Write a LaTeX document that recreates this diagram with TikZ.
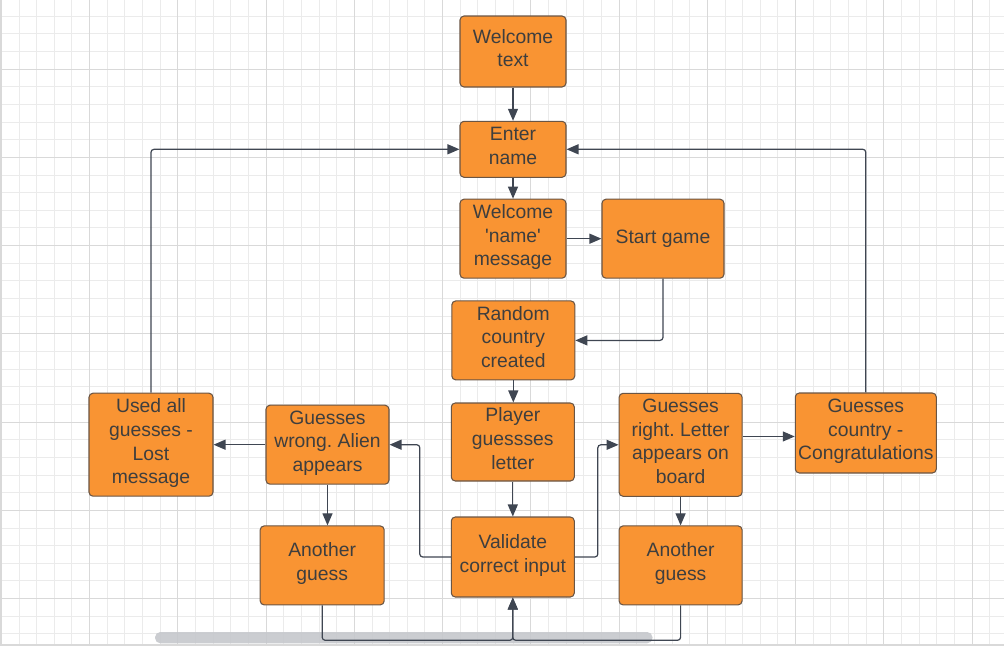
\documentclass[tikz,border=0pt]{standalone}
\usepackage{fontspec}
\setmainfont{Liberation Sans}
\usetikzlibrary{arrows.meta}
\definecolor{boxfill}{HTML}{F99433}
\definecolor{boxline}{HTML}{6A5544}
\definecolor{boxtext}{HTML}{3E3E3E}
\definecolor{linkcol}{HTML}{3F4652}
\definecolor{gridminor}{HTML}{EBEBEB}
\definecolor{gridmajor}{HTML}{D9D9D9}
\definecolor{scrollcol}{HTML}{C6C8CC}
\frenchspacing
\begin{document}
\begin{tikzpicture}[x=0.75pt,y=-0.75pt]
    \tikzset{>={Triangle[length=9pt,width=7.5pt]}}
    \tikzset{box/.style={draw=boxline,fill=boxfill,line width=0.8pt,rounded corners=3pt,
        text=boxtext,align=center,inner sep=0pt,font=\fontsize{14.5}{17.8}\selectfont,
        execute at begin node=\strut,execute at end node=\strut},
        link/.style={->,draw=linkcol,line width=0.9pt,rounded corners=2.25pt}}
    \useasboundingbox (0,0) rectangle (1004,646);
    \fill[white] (0,0) rectangle (1004,646);
    % grid
    \foreach \i in {0,...,56}
        \draw[gridminor,line width=0.6pt] ({1.25+\i*17.65},0) -- ++(0,646);
    \foreach \j in {-3,...,32}
        \draw[gridminor,line width=0.6pt] (0,{69+\j*17.65}) -- ++(1004,0);
    \foreach \i in {0,...,11}
        \draw[gridmajor,line width=0.7pt] ({1.25+\i*88.25},0) -- ++(0,646);
    \foreach \j in {0,...,6}
        \draw[gridmajor,line width=0.7pt] (0,{69+\j*88.25}) -- ++(1004,0);
    \fill[gridmajor] (0,0) rectangle (2,646);
    \draw[gridmajor,line width=0.8pt] (0,645) -- (1004,645);
    % boxes
    \node[box,minimum width=79.5pt,minimum height=53.25pt] (welcome) at (513,51.5) {Welcome\\text};
    \node[box,minimum width=79.5pt,minimum height=42pt] (enter) at (513,149.3) {Enter\\name};
    \node[box,minimum width=79.5pt,minimum height=59.25pt] (welmsg) at (513,238.7) {Welcome\\\textquotesingle name\textquotesingle\\message};
    \node[box,minimum width=91.5pt,minimum height=59.25pt] (start) at (663,238.7) {Start game};
    \node[box,minimum width=92.25pt,minimum height=59.25pt] (random) at (513.3,340.4) {Random\\country\\created};
    \node[box,minimum width=92.25pt,minimum height=58.5pt] (player) at (512.8,442) {Player\\guessses\\letter};
    \node[box,minimum width=92.25pt,minimum height=60pt] (validate) at (512.8,557) {Validate\\correct input};
    \node[box,minimum width=92.25pt,minimum height=59.25pt] (wrong) at (327.5,444.7) {Guesses\\wrong. Alien\\appears};
    \node[box,minimum width=93pt,minimum height=77.25pt] (used) at (151,444.7) {Used all\\guesses -\\Lost\\message};
    \node[box,minimum width=93pt,minimum height=59.25pt] (anotherL) at (322.2,565.4) {Another\\guess};
    \node[box,minimum width=92.25pt,minimum height=77.25pt] (right) at (680.6,444.8) {Guesses\\right. Letter\\appears on\\board};
    \node[box,minimum width=92.25pt,minimum height=59.25pt] (anotherR) at (680.6,565.4) {Another\\guess};
    \node[box,minimum width=105.75pt,minimum height=60pt] (country) at (865.8,433) {Guesses\\country -\\Congratulations};
    \coordinate (join) at (512.8,640.3);
    % scroll bar
    \fill[scrollcol,rounded corners=4pt,opacity=0.9] (155,632) rectangle (652.5,643.3);
    % connectors
    \draw[link] (welcome.south) -- (enter.north);
    \draw[link] (enter.south) -- (welmsg.north);
    \draw[link] (welmsg.east) -- (start.west);
    \draw[link] (start.south) |- (random.east);
    \draw[link] (random.south) -- (random.south |- player.north);
    \draw[link] (player.south) -- (validate.north);
    \draw[link] (validate.west) -- ++(-31,0) |- (wrong.east);
    \draw[link] (validate.east) -- ++(23,0) |- (right.west);
    \draw[link] (wrong.west) -- (wrong.west -| used.east);
    \draw[link] (wrong.south) -- (wrong.south |- anotherL.north);
    \draw[link] (right.south) -- (anotherR.north);
    \draw[link] ([yshift=-2.6pt]country.west -| right.east) -- ([yshift=-2.6pt]country.west);
    \draw[link] (anotherL.south) |- (join) -- (validate.south);
    \draw[link] (anotherR.south) |- (join) -- (validate.south);
    \draw[link] (used.north) |- (enter.west);
    \draw[link] (country.north) |- (enter.east);
\end{tikzpicture}
\end{document}
